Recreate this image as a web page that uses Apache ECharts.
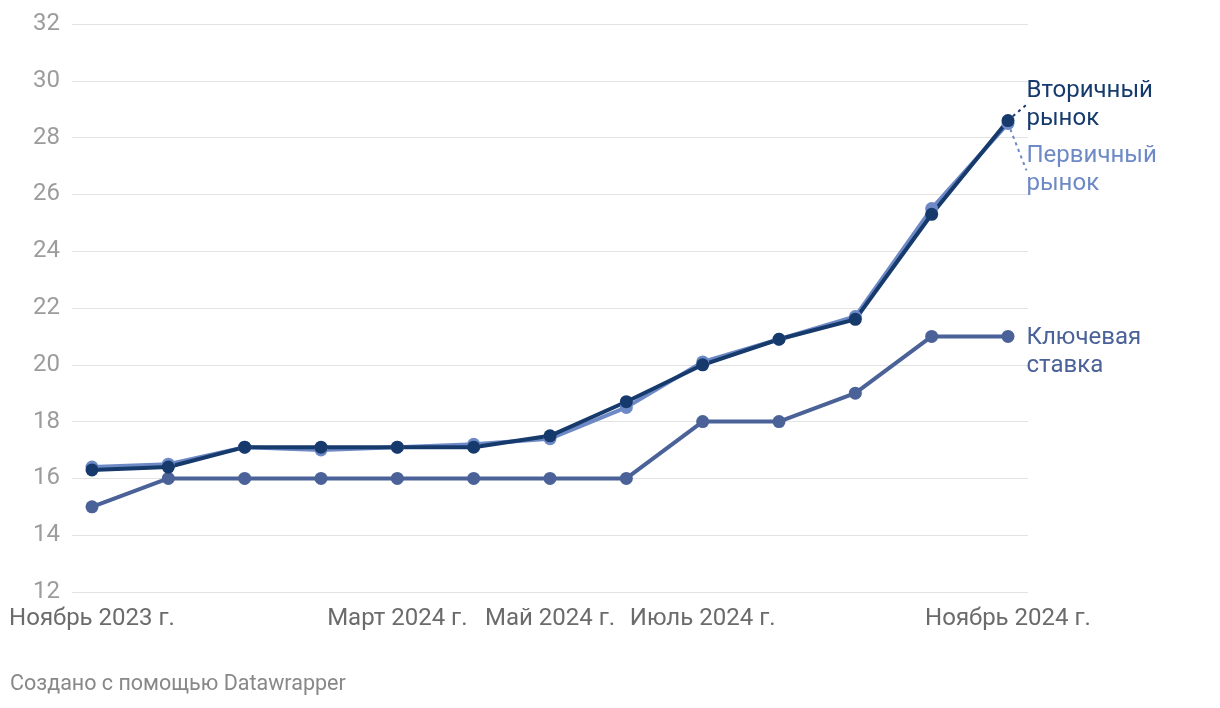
<!DOCTYPE html>
<html>
<head>
<meta charset="utf-8">
<script src="https://cdn.jsdelivr.net/npm/echarts@6/dist/echarts.min.js"></script>
<style>
html,body{margin:0;padding:0;background:#fff;}
#chart{width:1220px;height:708px;}
</style>
</head>
<body>
<div id="chart"></div>
<script>
const categories = ['Ноябрь 2023 г.','Декабрь 2023 г.','Январь 2024 г.','Февраль 2024 г.','Март 2024 г.','Апрель 2024 г.','Май 2024 г.','Июнь 2024 г.','Июль 2024 г.','Август 2024 г.','Сентябрь 2024 г.','Октябрь 2024 г.','Ноябрь 2024 г.'];
const shownLabels = [0, 4, 6, 8, 12];
const keyRate = [15, 16, 16, 16, 16, 16, 16, 16, 18, 18, 19, 21, 21];
const secondary = [16.3, 16.4, 17.1, 17.1, 17.1, 17.1, 17.5, 18.7, 20.0, 20.9, 21.6, 25.3, 28.6];
const primary = [16.4, 16.5, 17.1, 17.0, 17.1, 17.2, 17.4, 18.5, 20.1, 20.9, 21.7, 25.5, 28.5];
const yTicks = {min: 12, max: 32, interval: 2};

const FONT = 'Roboto, "Noto Sans", sans-serif';
const C_KEY = '#4a6298';
const C_SEC = '#163a6c';
const C_PRI = '#6d89c6';

function pts(arr){ return arr.map((v,i)=>[i,v]); }

function mkSeries(name, data, color, labelText, labelColor, dy, dotted){
  const d = pts(data);
  const last = d.length - 1;
  return {
    name: name, type: 'line', xAxisIndex: 0, yAxisIndex: 0,
    data: d.map((p,i)=> i===last ? {value:p, label:{show:true}} : {value:p}),
    symbol: 'circle', symbolSize: 13,
    lineStyle: {color: color, width: 4},
    itemStyle: {color: color},
    animation: false,
    label: {
      show: false, position: 'right', distance: 12,
      formatter: labelText, color: labelColor,
      fontFamily: FONT, fontSize: 24, lineHeight: 28, align: 'left'
    },
    labelLayout: {dy: dy},
    labelLine: dotted ? {show: true, lineStyle: {color: color, width: 2, type: [3,4]}} : {show:false},
    emphasis: {disabled: true},
    z: 2
  };
}

const chart = echarts.init(document.getElementById('chart'), null, {renderer:'canvas'});
chart.setOption({
  backgroundColor: '#fff',
  animation: false,
  grid: [
    {left: 72, right: 192, top: 24, bottom: 116, containLabel: false},
    {left: 92, right: 212, top: 24, bottom: 116, containLabel: false}
  ],
  xAxis: [
    {type: 'value', gridIndex: 0, min: -0.262, max: 12.262,
     axisLine:{show:false}, axisTick:{show:false}, axisLabel:{show:false}, splitLine:{show:false}},
    {type: 'category', gridIndex: 1, data: categories, boundaryGap: false,
     axisLine:{show:false}, axisTick:{show:false}, splitLine:{show:false},
     axisLabel:{show:true, interval: (i)=> shownLabels.indexOf(i) >= 0,
       color:'#6b6b6b', fontFamily: FONT, fontSize: 24, margin: 15}}
  ],
  yAxis: [
    {type: 'value', gridIndex: 0, min: yTicks.min, max: yTicks.max, interval: yTicks.interval,
     axisLine:{show:false}, axisTick:{show:false},
     axisLabel:{color:'#9c9c9c', fontFamily: FONT, fontSize: 24, margin: 12},
     splitLine:{show:true, lineStyle:{color:'#e3e3e3', width: 1}}},
    {type: 'value', gridIndex: 1, min: yTicks.min, max: yTicks.max, show: false}
  ],
  series: [
    mkSeries('Ключевая ставка', keyRate, C_KEY, 'Ключевая\nставка', '#4a6298', 16, false),
    mkSeries('Первичный рынок', primary, C_PRI, 'Первичный\nрынок', '#6d89c6', 47, true),
    mkSeries('Вторичный рынок', secondary, C_SEC, 'Вторичный\nрынок', '#163a6c', -16, true)
  ],
  graphic: [
    {type:'text', left: 10, top: 674, style:{text:'Создано с помощью Datawrapper', fill:'#888888', font: '21.5px ' + FONT}}
  ]
});
</script>
</body>
</html>
